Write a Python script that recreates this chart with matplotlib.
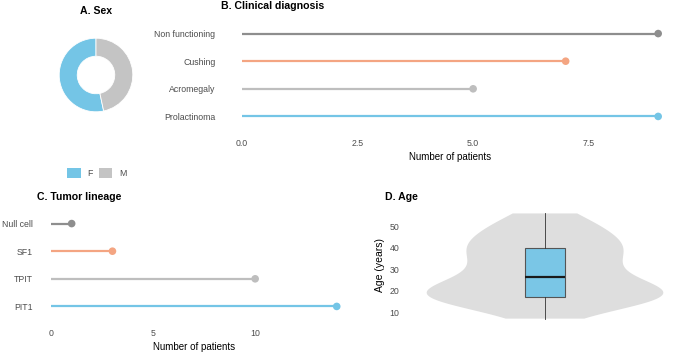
import numpy as np
import matplotlib
matplotlib.use('Agg')
import matplotlib.pyplot as plt
from matplotlib.patches import Patch

plt.rcParams['font.family'] = ['Liberation Sans', 'DejaVu Sans']

# dữ liệu
sex_labels = ['F', 'M']
sex_counts = [16, 14]

diag_labels = ['Non functioning', 'Cushing', 'Acromegaly', 'Prolactinoma']
diag_counts = [9, 7, 5, 9]

lineage_labels = ['Null cell', 'SF1', 'TPIT', 'PIT1']
lineage_counts = [1, 3, 10, 14]

ages = [7, 12, 15, 16, 16, 17, 17, 17, 18, 19, 20, 21, 22, 24, 25,
        28, 30, 32, 34, 36, 38, 40, 40, 42, 44, 46, 48, 50, 53, 56]

BLUE = '#74C5E6'
GREY_M = '#C4C4C4'
DARK = '#8E8E8E'
SALMON = '#F4A582'
LIGHT = '#BEBEBE'
lolli_colors = [DARK, SALMON, LIGHT, BLUE]
TICK_COL = '#4D4D4D'
TITLE_SIZE = 7.6

W, H = 685, 353
fig = plt.figure(figsize=(W / 100, H / 100), dpi=100)


def px_axes(l, t, r, b):
    return fig.add_axes([l / W, 1 - b / H, (r - l) / W, (b - t) / H])


def clean(ax):
    for s in ax.spines.values():
        s.set_visible(False)
    ax.tick_params(length=0, labelsize=6.3, labelcolor=TICK_COL, pad=4)


# A. Sex
axA = px_axes(50, 29, 142, 121)
axA.pie(sex_counts, colors=[BLUE, GREY_M], startangle=90, counterclock=True,
        wedgeprops=dict(width=0.49, edgecolor='white', linewidth=0.6))
axA.set_aspect('equal')
fig.text(96 / W, 1 - 11 / H, 'A. Sex', ha='center', va='center',
         fontsize=TITLE_SIZE, fontweight='bold')
handles = [Patch(facecolor=c, edgecolor='none') for c in [BLUE, GREY_M]]
fig.legend(handles, sex_labels, loc='center', bbox_to_anchor=(97 / W, 1 - 173 / H),
           ncol=2, frameon=False, fontsize=6.3, handlelength=1.5, handleheight=1.5,
           columnspacing=0.7, handletextpad=0.8, labelcolor=TICK_COL)


def lollipop(ax, labels, counts):
    n = len(labels)
    ys = np.arange(n)[::-1]
    for y, v, c in zip(ys, counts, lolli_colors):
        ax.plot([0, v], [y, y], color=c, lw=1.6, solid_capstyle='butt', zorder=1)
        ax.scatter([v], [y], s=30, color=c, zorder=2, edgecolors='none')
    ax.set_yticks(ys)
    ax.set_yticklabels(labels)
    top = max(counts)
    ax.set_xlim(-0.05 * top, top * 1.05)
    ax.set_ylim(-0.6, n - 1 + 0.6)
    ax.set_xlabel('Number of patients', fontsize=7, labelpad=3)
    clean(ax)


# B. Clinical diagnosis
axB = px_axes(221, 17, 679, 133)
lollipop(axB, diag_labels, diag_counts)
axB.set_xticks([0, 2.5, 5, 7.5])
axB.set_xticklabels(['0.0', '2.5', '5.0', '7.5'])
fig.text(221 / W, 1 - 6 / H, 'B. Clinical diagnosis', ha='left', va='center',
         fontsize=TITLE_SIZE, fontweight='bold')

# C. Tumor lineage
axC = px_axes(37, 207, 351, 323)
lollipop(axC, lineage_labels, lineage_counts)
axC.set_xticks([0, 5, 10])
axC.tick_params(axis='y', pad=3)
fig.text(37 / W, 1 - 197 / H, 'C. Tumor lineage', ha='left', va='center',
         fontsize=TITLE_SIZE, fontweight='bold')

# D. Age  (bw kiểu nrd0 của R)
axD = px_axes(405, 207, 685, 324)
vp = axD.violinplot([ages], positions=[0], widths=1.69, showextrema=False,
                    bw_method=0.9 * len(ages) ** -0.2)
for b in vp['bodies']:
    b.set_facecolor('#DEDEDE')
    b.set_edgecolor('none')
    b.set_alpha(1)
axD.boxplot([ages], positions=[0], widths=0.286, patch_artist=True, showcaps=False,
            showfliers=False,
            boxprops=dict(facecolor='#7AC6E6', edgecolor='#555555', linewidth=0.8),
            whiskerprops=dict(color='#333333', linewidth=0.6),
            medianprops=dict(color='#1a1a1a', linewidth=1.6))
axD.set_xlim(-1, 1)
axD.set_ylim(4.5, 59)
axD.set_xticks([])
axD.set_yticks([10, 20, 30, 40, 50])
axD.set_ylabel('Age (years)', fontsize=7.5, labelpad=3)
clean(axD)
fig.text(385 / W, 1 - 197 / H, 'D. Age', ha='left', va='center',
         fontsize=TITLE_SIZE, fontweight='bold')

fig.savefig('out.png', dpi=100)
